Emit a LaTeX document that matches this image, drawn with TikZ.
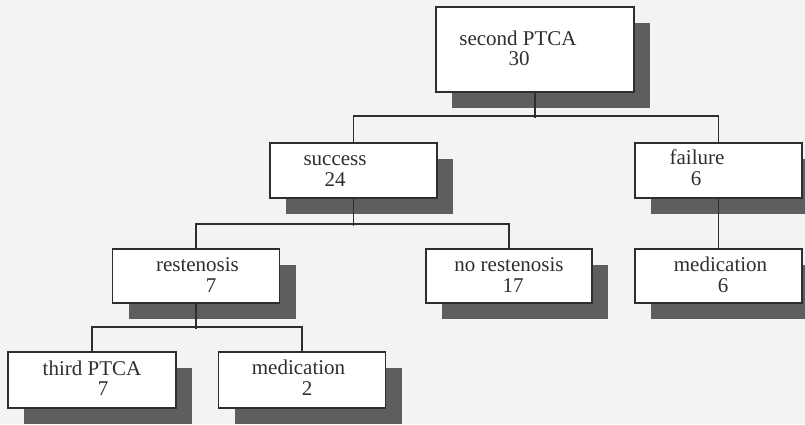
\documentclass[tikz,border=0pt]{standalone}
\usepackage{fontspec}
\setmainfont{Liberation Serif}
\usetikzlibrary{shadows}
\definecolor{pagebg}{HTML}{F3F3F1}
\definecolor{ink}{HTML}{2E2E2E}
\definecolor{shade}{HTML}{5E5E5E}
\tikzset{
  box/.style={draw=ink, line width=1.5pt, fill=white, rectangle, inner sep=0pt,
    drop shadow={shadow xshift=16pt, shadow yshift=-16pt, fill=shade, opacity=1}},
  lbl/.style={anchor=base, inner sep=0pt, text=ink, font=\fontsize{21}{21}\selectfont},
  conn/.style={draw=ink, line width=1.9pt},
}
\begin{document}
\begin{tikzpicture}[x=1pt,y=-1pt]
\useasboundingbox (0,0) rectangle (805,424);
\clip (0,0) rectangle (805,424);
\fill[pagebg] (0,0) rectangle (805,424);
% boxes
\node[box, minimum width=198pt, minimum height=85pt] (root) at (535,49.5) {};
\node[box, minimum width=167pt, minimum height=55pt] (success) at (353.5,170.5) {};
\node[box, minimum width=167pt, minimum height=55pt] (failure) at (718.5,170.5) {};
\node[box, minimum width=167pt, minimum height=54pt] (rest) at (196,276) {};
\node[box, minimum width=166pt, minimum height=54pt] (norest) at (509,276) {};
\node[box, minimum width=167pt, minimum height=54pt] (med6) at (718.5,276) {};
\node[box, minimum width=168pt, minimum height=56pt] (third) at (92,380) {};
\node[box, minimum width=167pt, minimum height=56pt] (med2) at (302,380) {};
% labels
\node[lbl] (root-a) at (518,45) {second PTCA};
\node[lbl] (root-b) at (519,65.5) {30};
\node[lbl] (success-a) at (335,165) {success};
\node[lbl] (success-b) at (335,186) {24};
\node[lbl] (failure-a) at (697,164) {failure};
\node[lbl] (failure-b) at (696,185) {6};
\node[lbl] (rest-a) at (197.5,271) {restenosis};
\node[lbl] (rest-b) at (211,292) {7};
\node[lbl] (norest-a) at (509,271) {no restenosis};
\node[lbl] (norest-b) at (513,292) {17};
\node[lbl] (med6-a) at (720.5,271) {medication};
\node[lbl] (med6-b) at (723,292) {6};
\node[lbl] (third-a) at (92,375) {third PTCA};
\node[lbl] (third-b) at (103,395) {7};
\node[lbl] (med2-a) at (298.5,374.5) {medication};
\node[lbl] (med2-b) at (307,395) {2};
% connectors
\draw[conn] (root.south) -- ++(0,25);
\draw[conn] (success.north) -- ++(0,-26) -| (failure.north);
\draw[conn] (success.south) -- ++(0,27);
\draw[conn] (rest.north) -- ++(0,-24) -| (norest.north);
\draw[conn] (failure.south) -- (failure.south |- med6.north);
\draw[conn] (rest.south) -- ++(0,25);
\draw[conn] (third.north) -- ++(0,-24) -| (med2.north);
\end{tikzpicture}
\end{document}
